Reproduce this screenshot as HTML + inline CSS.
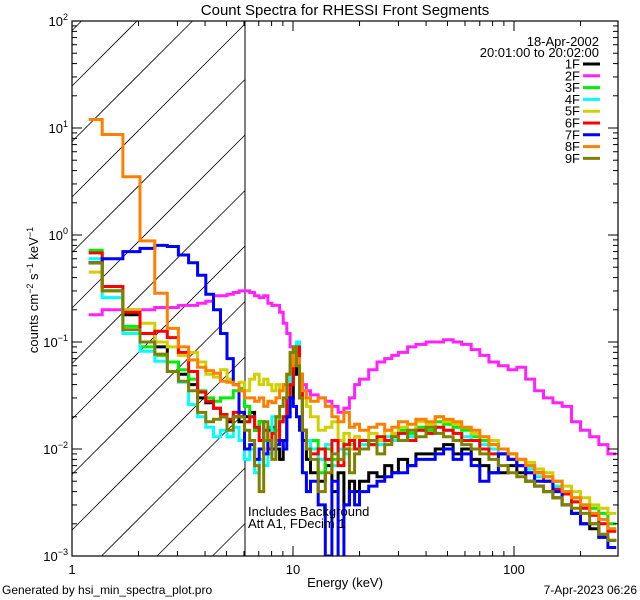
<!DOCTYPE html>
<html><head><meta charset="utf-8">
<style>
html,body{margin:0;padding:0;background:#fff;width:640px;height:600px;overflow:hidden;}
svg{display:block;font-family:"Liberation Sans",sans-serif;overflow:hidden;}
</style></head>
<body>
<svg id="chart" width="640" height="600" viewBox="0 0 640 600" xmlns="http://www.w3.org/2000/svg">
<rect x="0" y="0" width="640" height="600" fill="#fff"/>
<text x="345" y="15" font-size="15" text-anchor="middle">Count Spectra for RHESSI Front Segments</text>
<defs><clipPath id="plotclip"><rect x="72" y="21" width="546" height="535"/></clipPath></defs>
<g id="hatch"></g>
<line x1="245" y1="21" x2="245" y2="556" stroke="#000" stroke-width="1"/>
<g id="series" clip-path="url(#plotclip)"></g>
<rect x="72" y="21" width="546" height="535" fill="none" stroke="#000" stroke-width="1.2"/>
<g id="ticks"></g>
<text transform="translate(38,290) rotate(-90)" font-size="13" text-anchor="middle">counts cm<tspan font-size="9" dy="-5">−2</tspan><tspan dy="5"> s</tspan><tspan font-size="9" dy="-5">−1</tspan><tspan dy="5"> keV</tspan><tspan font-size="9" dy="-5">−1</tspan></text>
<text x="345" y="587" font-size="13" text-anchor="middle">Energy (keV)</text>
<text x="2" y="594" font-size="12">Generated by hsi_min_spectra_plot.pro</text>
<text x="637" y="594" font-size="12" text-anchor="end">7-Apr-2023 06:26</text>
<text x="248" y="516" font-size="13">Includes Background</text>
<text x="248" y="528" font-size="13">Att A1, FDecim 1</text>
<text x="599" y="46" font-size="13" text-anchor="end">18-Apr-2002</text>
<text x="599" y="57" font-size="13" text-anchor="end">20:01:00 to 20:02:00</text>
<g id="legend"></g>
</svg>
<script>
const edges = [1.19,1.37,1.70,2.03,2.37,2.70,3.03,3.37,3.70,4.03,4.37,4.70,5.03,5.37,5.70,6.03,6.37,6.70,7.03,7.37,7.70,8.03,8.37,8.70,9.03,9.37,9.70,10.03,10.37,10.70,11.03,11.5,12,13,14,15,16,17,18,19,20,22,24,26,28,30,33,36,40,44,48,53,58,64,70,77,85,94,103,113,124,136,150,165,182,200,220,242,266,290];
const seriesNames = ["1F","2F","3F","4F","5F","6F","7F","8F","9F"];
const seriesColors = ["#000000","#ff22ff","#00ee00","#00ffff","#d0d000","#ff0000","#0000ff","#ff8000","#808000"];
const s1F = [0.55,0.3,0.18,0.12,0.09,0.065,0.05,0.04,0.03,0.027,0.024,0.02,0.018,0.02,0.018, 0.02,0.022,0.015,0.018,0.012,0.015,0.016,0.01,0.008,0.012,0.02,0.03,0.05,0.06,0.03,0.012,0.008, 0.006,0.005,0.007,0.004,0.006,0.003,0.005,0.004,0.005,0.006,0.0055,0.007,0.006,0.008,0.007,0.009,0.009,0.01,0.011,0.009,0.01,0.008,0.007,0.006,0.006,0.007,0.006,0.005,0.0045,0.004,0.0035,0.003,0.0025,0.002,0.0018,0.0015,0.0014];
const s2F = [0.18,0.2,0.2,0.2,0.21,0.21,0.22,0.22,0.23,0.24,0.27,0.27,0.28,0.29,0.3, 0.3,0.29,0.27,0.26,0.27,0.23,0.22,0.22,0.19,0.15,0.12,0.09,0.08,0.07,0.05,0.04,0.035, 0.032,0.03,0.028,0.025,0.022,0.024,0.03,0.04,0.045,0.055,0.065,0.07,0.075,0.08,0.09,0.095,0.1,0.1,0.105,0.1,0.095,0.085,0.075,0.065,0.06,0.055,0.058,0.045,0.035,0.03,0.027,0.025,0.018,0.015,0.013,0.011,0.009];
const s3F = [0.72,0.3,0.14,0.09,0.075,0.065,0.055,0.045,0.035,0.03,0.028,0.03,0.03,0.035,0.037, 0.025,0.02,0.015,0.018,0.012,0.016,0.015,0.02,0.018,0.02,0.025,0.04,0.07,0.085,0.04,0.015,0.01, 0.012,0.006,0.01,0.008,0.012,0.01,0.011,0.013,0.012,0.011,0.013,0.012,0.014,0.015,0.014,0.016,0.015,0.018,0.017,0.016,0.015,0.013,0.012,0.011,0.01,0.009,0.008,0.007,0.006,0.0055,0.005,0.004,0.0035,0.003,0.0028,0.0025,0.002];
const s4F = [0.6,0.26,0.12,0.082,0.066,0.053,0.042,0.026,0.02,0.016,0.013,0.015,0.013,0.016,0.012, 0.008,0.01,0.006,0.008,0.007,0.009,0.02,0.015,0.018,0.02,0.03,0.05,0.09,0.1,0.04,0.015,0.012, 0.01,0.008,0.011,0.007,0.01,0.009,0.011,0.01,0.011,0.012,0.011,0.013,0.012,0.014,0.013,0.015,0.014,0.016,0.015,0.014,0.013,0.012,0.011,0.01,0.009,0.008,0.007,0.0065,0.0055,0.005,0.0045,0.004,0.0032,0.0028,0.0024,0.002,0.0018];
const s5F = [0.45,0.3,0.2,0.15,0.1,0.09,0.075,0.08,0.065,0.05,0.047,0.055,0.045,0.04,0.042, 0.035,0.045,0.05,0.04,0.045,0.04,0.035,0.04,0.035,0.04,0.05,0.06,0.07,0.08,0.05,0.03,0.025, 0.02,0.015,0.016,0.018,0.012,0.014,0.01,0.013,0.012,0.014,0.012,0.015,0.014,0.016,0.015,0.018,0.017,0.02,0.018,0.017,0.016,0.014,0.013,0.012,0.01,0.009,0.008,0.0075,0.0065,0.006,0.005,0.0045,0.004,0.0035,0.003,0.0028,0.0025];
const s6F = [0.68,0.33,0.19,0.12,0.126,0.11,0.08,0.053,0.034,0.028,0.024,0.021,0.019,0.022,0.02, 0.018,0.02,0.016,0.012,0.015,0.01,0.014,0.012,0.018,0.02,0.03,0.04,0.06,0.09,0.05,0.015,0.01, 0.009,0.01,0.008,0.012,0.007,0.011,0.012,0.01,0.012,0.011,0.013,0.012,0.013,0.014,0.012,0.015,0.014,0.016,0.015,0.014,0.012,0.012,0.01,0.009,0.009,0.008,0.007,0.006,0.006,0.005,0.0042,0.0038,0.0032,0.0028,0.0024,0.002,0.0017];
const s7F = [0.55,0.6,0.7,0.75,0.8,0.78,0.65,0.55,0.42,0.28,0.2,0.12,0.07,0.04,0.022, 0.01,0.011,0.008,0.01,0.009,0.012,0.01,0.011,0.012,0.01,0.02,0.03,0.025,0.02,0.015,0.006,0.004, 0.005,0.003,0.001,0.005,0.0008,0.003,0.004,0.003,0.004,0.0045,0.005,0.0055,0.006,0.006,0.007,0.008,0.008,0.009,0.01,0.008,0.009,0.007,0.005,0.006,0.009,0.008,0.007,0.006,0.005,0.005,0.004,0.003,0.0025,0.002,0.002,0.0015,0.0012];
const s8F = [12,8.7,3.5,0.88,0.285,0.134,0.09,0.068,0.058,0.054,0.051,0.043,0.042,0.04,0.035, 0.03,0.03,0.028,0.03,0.025,0.028,0.027,0.03,0.035,0.04,0.05,0.06,0.08,0.07,0.05,0.035,0.03, 0.028,0.03,0.025,0.02,0.018,0.022,0.016,0.017,0.015,0.016,0.017,0.015,0.016,0.018,0.017,0.019,0.018,0.02,0.019,0.018,0.016,0.015,0.013,0.011,0.01,0.009,0.008,0.007,0.006,0.0055,0.005,0.004,0.0035,0.003,0.0025,0.0022,0.0018];
const s9F = [0.55,0.3,0.13,0.1,0.077,0.053,0.043,0.035,0.022,0.018,0.019,0.02,0.015,0.02,0.02, 0.015,0.012,0.007,0.004,0.018,0.012,0.008,0.02,0.025,0.03,0.05,0.08,0.09,0.06,0.03,0.015,0.01, 0.008,0.004,0.006,0.009,0.008,0.01,0.006,0.009,0.01,0.012,0.009,0.011,0.013,0.012,0.015,0.013,0.016,0.014,0.013,0.012,0.011,0.01,0.009,0.008,0.007,0.006,0.0055,0.005,0.0045,0.004,0.0035,0.003,0.0028,0.0025,0.002,0.0016,0.0014];
const allSeries = [s1F,s2F,s3F,s4F,s5F,s6F,s7F,s8F,s9F];
const xTickLabels = ["1","10","100"];
const yTickExps = ["2","1","0","−1","−2","−3"];

const NS = "http://www.w3.org/2000/svg";
const X0 = 72, X1 = 618, Y0 = 21, Y1 = 556, XH = 245;
const XDEC = 221, YDEC = 107;
function xs(e){ return X0 + XDEC * Math.log10(e); }
function ys(v){ const y = Y0 + YDEC * (2 - Math.log10(Math.max(v, 1e-4))); return Math.min(Math.max(y, Y0 - 2), Y1 + 3); }
function mk(tag, attrs, parent){ const el = document.createElementNS(NS, tag); for (const k in attrs) el.setAttribute(k, attrs[k]); parent.appendChild(el); return el; }

// hatch lines y = c - x, clipped to [X0,XH]x[Y0,Y1]
const hatch = document.getElementById('hatch');
for (let k = -2; k < 16; k++) {
  const c = 158 + 55.5 * k;
  let xa = Math.max(X0, c - Y1), xb = Math.min(XH, c - Y0);
  if (xb <= xa) continue;
  const ln = mk('line', {x1: xa, y1: c - xa, x2: xb, y2: c - xb, stroke: '#000', 'stroke-width': 0.8}, hatch);
  
  
}

const sg = document.getElementById('series');
allSeries.forEach((vals, si) => {
  let d = '';
  const n = Math.min(vals.length, edges.length - 1);
  for (let i = 0; i < n; i++) {
    const xa = xs(edges[i]).toFixed(1), xb = xs(edges[i+1]).toFixed(1), y = ys(vals[i]).toFixed(1);
    d += (i === 0 ? 'M' : 'L') + xa + ',' + y + 'L' + xb + ',' + y;
  }
  const p = mk('path', {d: d, fill: 'none', stroke: seriesColors[si], 'stroke-width': 3, 'stroke-linejoin': 'miter'}, sg);
  
  
});

const tg = document.getElementById('ticks');
function tick(x1,y1,x2,y2){ const t = mk('line', {x1:x1,y1:y1,x2:x2,y2:y2,stroke:'#000','stroke-width':1}, tg);
  
   }
for (let dcd = 0; dcd < 3; dcd++) {
  for (let m = 1; m <= 9; m++) {
    const e = m * Math.pow(10, dcd);
    if (e > 296) break;
    const x = xs(e), L = (m === 1) ? 10 : 5;
    tick(x, Y1, x, Y1 - L); tick(x, Y0, x, Y0 + L);
  }
  const lbl = mk('text', {x: xs(Math.pow(10, dcd)), y: 574, 'font-size': 13, 'text-anchor': 'middle'}, tg);
  lbl.textContent = xTickLabels[dcd];
  
  
}
for (let p = -3; p <= 2; p++) {
  for (let m = 1; m <= 9; m++) {
    if (p === 2 && m > 1) break;
    const y = ys(m * Math.pow(10, p)), L = (m === 1) ? 10 : 5;
    tick(X0, y, X0 + L, y); tick(X1, y, X1 - L, y);
  }
  const lbl = mk('text', {x: 68, y: ys(Math.pow(10, p)) + 5, 'font-size': 13, 'text-anchor': 'end'}, tg);
  
  
  const t1 = document.createElementNS(NS, 'tspan'); t1.textContent = '10'; lbl.appendChild(t1);
  const t2 = document.createElementNS(NS, 'tspan'); t2.setAttribute('font-size', '9'); t2.setAttribute('dy', '-6');
  t2.textContent = yTickExps[2 - p]; lbl.appendChild(t2);
}

const lg = document.getElementById('legend');
seriesNames.forEach((nm, i) => {
  const y = 64 + i * 11.8;
  const t = mk('text', {x: 580, y: y + 4.5, 'font-size': 13, 'text-anchor': 'end'}, lg);
  t.textContent = nm;
  
  
  const l = mk('line', {x1: 583, y1: y, x2: 600, y2: y, stroke: seriesColors[i], 'stroke-width': 3}, lg);
  
  
});
</script>
</body></html>
